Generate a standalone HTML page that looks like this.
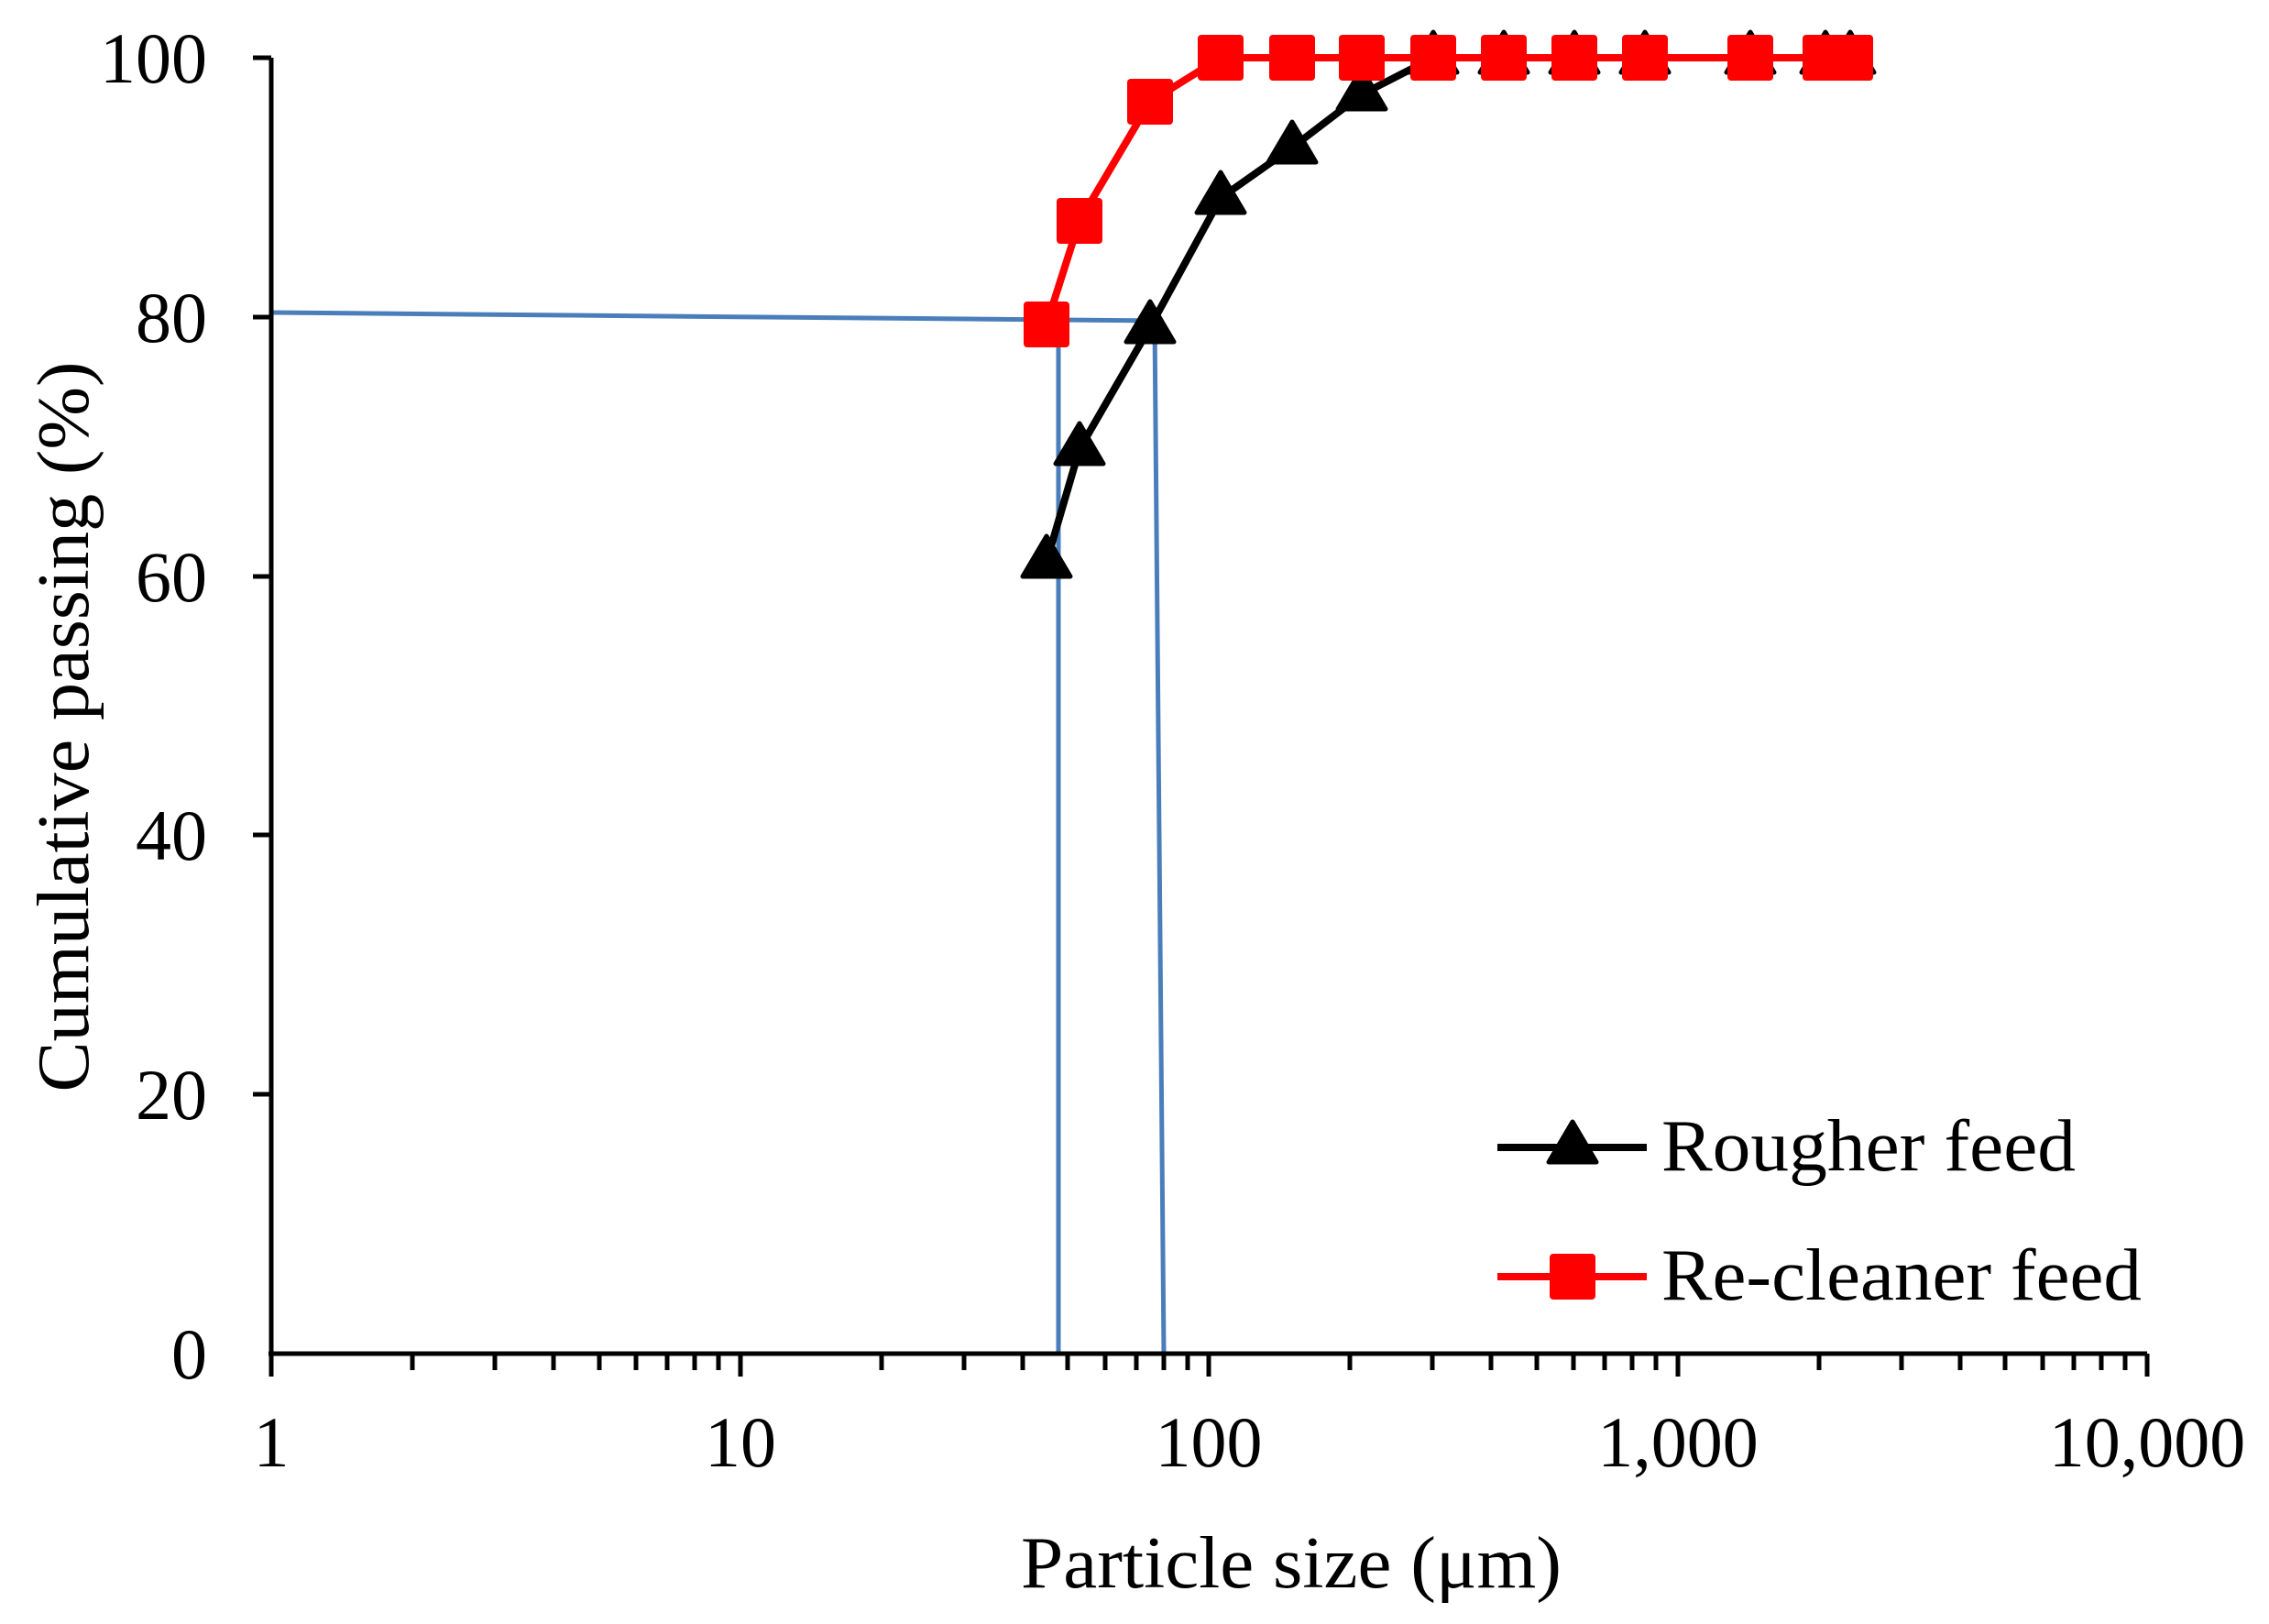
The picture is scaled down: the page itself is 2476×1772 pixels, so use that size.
<!DOCTYPE html>
<html><head><meta charset="utf-8"><style>html,body{margin:0;padding:0;background:#fff}svg{display:block}</style></head>
<body>
<svg width="2476" height="1772" viewBox="0 0 2476 1772" xmlns="http://www.w3.org/2000/svg" font-family="Liberation Serif, serif">
<rect width="2476" height="1772" fill="#fff"/>
<!-- blue guide lines -->
<g stroke="#4a7ebb" stroke-width="5" fill="none">
<polyline points="296,341 1267,350"/>
<line x1="1155" y1="362" x2="1155" y2="1477"/>
<line x1="1260" y1="350" x2="1270" y2="1477"/>
</g>
<!-- axes -->
<g stroke="#000" stroke-width="5">
<line x1="296" y1="63" x2="296" y2="1480"/>
<line x1="293" y1="1477" x2="2343" y2="1477"/>
<line x1="276" y1="63" x2="296" y2="63"/>
<line x1="276" y1="346" x2="296" y2="346"/>
<line x1="276" y1="629" x2="296" y2="629"/>
<line x1="276" y1="911" x2="296" y2="911"/>
<line x1="276" y1="1194" x2="296" y2="1194"/>
<line x1="296" y1="1477" x2="296" y2="1502"/>
<line x1="808" y1="1477" x2="808" y2="1502"/>
<line x1="1319" y1="1477" x2="1319" y2="1502"/>
<line x1="1831" y1="1477" x2="1831" y2="1502"/>
<line x1="2343" y1="1477" x2="2343" y2="1502"/>
</g>
<g stroke="#000" stroke-width="5" id="minor">
<line x1="450" y1="1477" x2="450" y2="1495"/><line x1="540" y1="1477" x2="540" y2="1495"/><line x1="604" y1="1477" x2="604" y2="1495"/><line x1="654" y1="1477" x2="654" y2="1495"/><line x1="694" y1="1477" x2="694" y2="1495"/><line x1="728" y1="1477" x2="728" y2="1495"/><line x1="758" y1="1477" x2="758" y2="1495"/><line x1="784" y1="1477" x2="784" y2="1495"/>
<line x1="962" y1="1477" x2="962" y2="1495"/><line x1="1052" y1="1477" x2="1052" y2="1495"/><line x1="1116" y1="1477" x2="1116" y2="1495"/><line x1="1165" y1="1477" x2="1165" y2="1495"/><line x1="1206" y1="1477" x2="1206" y2="1495"/><line x1="1240" y1="1477" x2="1240" y2="1495"/><line x1="1270" y1="1477" x2="1270" y2="1495"/><line x1="1296" y1="1477" x2="1296" y2="1495"/>
<line x1="1473" y1="1477" x2="1473" y2="1495"/><line x1="1563" y1="1477" x2="1563" y2="1495"/><line x1="1627" y1="1477" x2="1627" y2="1495"/><line x1="1677" y1="1477" x2="1677" y2="1495"/><line x1="1717" y1="1477" x2="1717" y2="1495"/><line x1="1751" y1="1477" x2="1751" y2="1495"/><line x1="1781" y1="1477" x2="1781" y2="1495"/><line x1="1807" y1="1477" x2="1807" y2="1495"/>
<line x1="1985" y1="1477" x2="1985" y2="1495"/><line x1="2075" y1="1477" x2="2075" y2="1495"/><line x1="2139" y1="1477" x2="2139" y2="1495"/><line x1="2188" y1="1477" x2="2188" y2="1495"/><line x1="2229" y1="1477" x2="2229" y2="1495"/><line x1="2263" y1="1477" x2="2263" y2="1495"/><line x1="2293" y1="1477" x2="2293" y2="1495"/><line x1="2319" y1="1477" x2="2319" y2="1495"/>
</g>
<!-- tick labels -->
<g font-size="78" fill="#000" text-anchor="end">
<text x="226" y="90">100</text>
<text x="226" y="373">80</text>
<text x="226" y="656">60</text>
<text x="226" y="938">40</text>
<text x="226" y="1221">20</text>
<text x="226" y="1504">0</text>
</g>
<g font-size="78" fill="#000" text-anchor="middle">
<text x="296" y="1600">1</text>
<text x="808" y="1600">10</text>
<text x="1319" y="1600">100</text>
<text x="1831" y="1600">1,000</text>
<text x="2343" y="1600">10,000</text>
</g>
<text x="1409" y="1732" font-size="80" text-anchor="middle" textLength="590" lengthAdjust="spacingAndGlyphs">Particle size (μm)</text>
<text transform="translate(96,793) rotate(-90)" font-size="80" text-anchor="middle" textLength="797" lengthAdjust="spacingAndGlyphs">Cumulative passing (%)</text>
<!-- black series -->
<polyline fill="none" stroke="#000" stroke-width="8" stroke-linejoin="round" points="1142,613 1178,490 1255,357 1332,216 1410,161 1486,103 1564,63 1641,63 1718,63 1795,63 1910,63 1992,63 2019,63"/>
<g fill="#000" stroke="#000" stroke-width="5" stroke-linejoin="round">
<polygon points="1142,585 1116,629 1168,629"/>
<polygon points="1178,462 1152,506 1204,506"/>
<polygon points="1255,329 1229,373 1281,373"/>
<polygon points="1332,188 1306,232 1358,232"/>
<polygon points="1410,133 1384,177 1436,177"/>
<polygon points="1486,75 1460,119 1512,119"/>
<polygon points="1564,35 1538,79 1590,79"/>
<polygon points="1641,35 1615,79 1667,79"/>
<polygon points="1718,35 1692,79 1744,79"/>
<polygon points="1795,35 1769,79 1821,79"/>
<polygon points="1910,35 1884,79 1936,79"/>
<polygon points="1992,35 1966,79 2018,79"/>
<polygon points="2019,35 1993,79 2045,79"/>
</g>
<!-- red series -->
<polyline fill="none" stroke="#f00" stroke-width="8" stroke-linejoin="round" points="1142,354 1178,241 1255,111 1332,63 1410,63 1486,63 1564,63 1641,63 1718,63 1795,63 1910,63 1992,63 2019,63"/>
<g fill="#f00">
<rect x="1117" y="329" width="50" height="50" rx="4"/>
<rect x="1153" y="216" width="50" height="50" rx="4"/>
<rect x="1230" y="86" width="50" height="50" rx="4"/>
<rect x="1307" y="38" width="50" height="50" rx="4"/>
<rect x="1385" y="38" width="50" height="50" rx="4"/>
<rect x="1461" y="38" width="50" height="50" rx="4"/>
<rect x="1539" y="38" width="50" height="50" rx="4"/>
<rect x="1616" y="38" width="50" height="50" rx="4"/>
<rect x="1693" y="38" width="50" height="50" rx="4"/>
<rect x="1770" y="38" width="50" height="50" rx="4"/>
<rect x="1885" y="38" width="50" height="50" rx="4"/>
<rect x="1967" y="38" width="50" height="50" rx="4"/>
<rect x="1994" y="38" width="50" height="50" rx="4"/>
</g>
<!-- legend -->
<line x1="1634" y1="1252" x2="1797" y2="1252" stroke="#000" stroke-width="8"/>
<polygon points="1716,1224 1690,1268 1742,1268" fill="#000" stroke="#000" stroke-width="5" stroke-linejoin="round"/>
<text x="1813" y="1277" font-size="80" textLength="452" lengthAdjust="spacingAndGlyphs">Rougher feed</text>
<line x1="1634" y1="1393" x2="1797" y2="1393" stroke="#f00" stroke-width="8"/>
<rect x="1691" y="1368" width="50" height="50" rx="4" fill="#f00"/>
<text x="1813" y="1418" font-size="80" textLength="524" lengthAdjust="spacingAndGlyphs">Re-cleaner feed</text>
</svg>
</body></html>
